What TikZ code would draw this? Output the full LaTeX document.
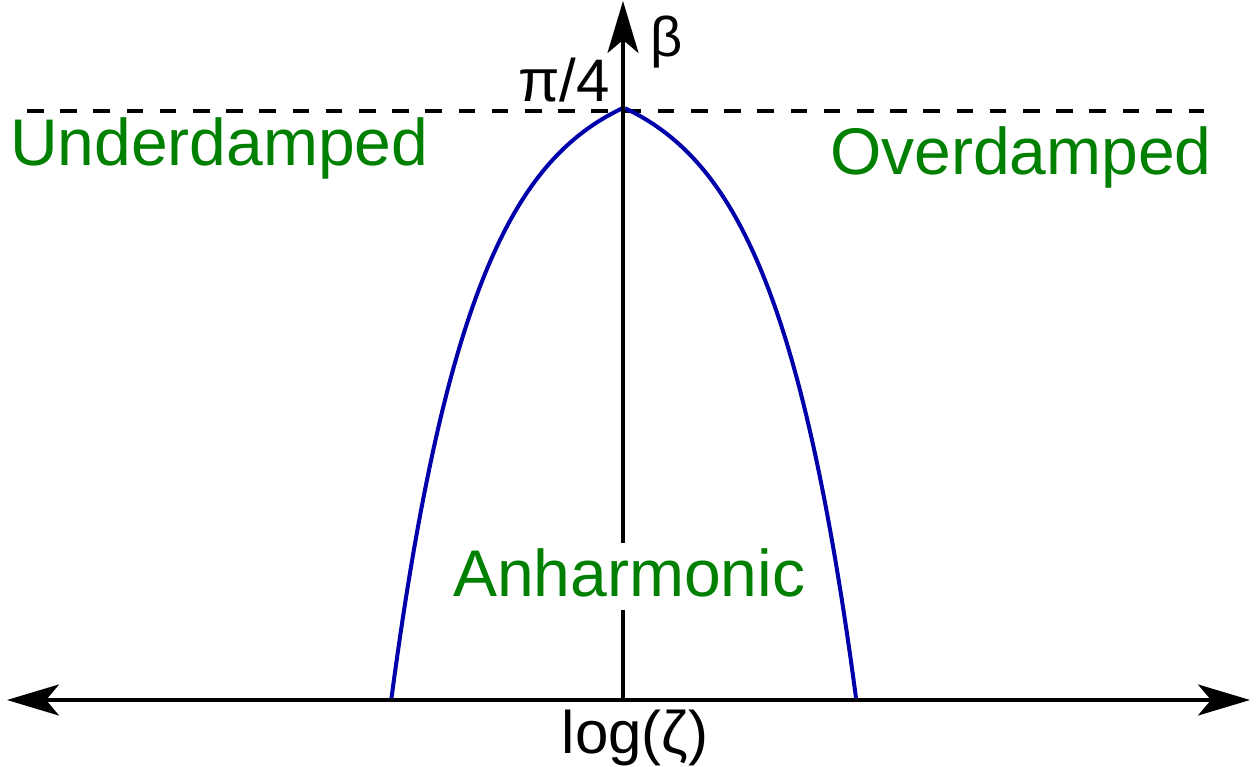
\documentclass[tikz,border=0pt]{standalone}
\usepackage{fontspec}
\setmainfont{Liberation Sans}
\usetikzlibrary{arrows.meta}
\definecolor{curveblue}{RGB}{0,0,170}
\definecolor{regiongreen}{RGB}{0,128,0}
\tikzset{
  >={Stealth[length=52pt,width=31pt,inset=13pt]},
  axis/.style={line width=3.2pt},
  border/.style={line width=3.4pt, dash pattern=on 16.6pt off 16.6pt},
  branch/.style={curveblue, line width=4pt, samples=80},
  region/.style={text=regiongreen, inner sep=0pt, font=\fontsize{66}{70}\selectfont},
  axislabel/.style={inner sep=0pt, font=\fontsize{60}{64}\selectfont}
}

\begin{document}
\begin{tikzpicture}[x=1pt,y=-1pt]
\useasboundingbox (0,0) rectangle (1258,767);

% axis ends
\coordinate (xl) at (7,700);
\coordinate (xr) at (1250,700);
\coordinate (o) at (623,700);
\coordinate (yt) at (623,1);
\coordinate (dl) at (27,111);
\coordinate (dr) at (1204,111);

% pi/4 level
\draw[border] (dl) -- (dr);

% the two branches of the curve
\draw[branch] plot[domain=0.5:231.6] ({623-\x},{108+39.17*(exp(0.012*\x)-1)});
\draw[branch] plot[domain=2:233] ({623+\x},{108+39.17*(exp(0.012*(\x-1.5))-1)});

% regions
\node[region, anchor=base west] (under) at (10,166) {Underdamped};
\node[region, anchor=base west] (over) at (830,175) {Overdamped};
\node[region, anchor=base west, fill=white, inner sep=5pt, text depth=9pt] (anh) at (448,596) {Anharmonic};

% axes
\draw[axis, <->] (xl) -- (xr);
\draw[axis] (o) -- (anh.south -| o);
\draw[axis, ->] (anh.north -| o) -- (yt);

% axis labels
\node[axislabel, anchor=base east] (quarter) at (610,102) {π/4};
\node[axislabel, anchor=base west, font=\fontsize{56}{60}\selectfont] (beta) at (650,57) {β};
\node[axislabel, anchor=base] (logz) at (635,753) {log(ζ)};
\end{tikzpicture}
\end{document}
